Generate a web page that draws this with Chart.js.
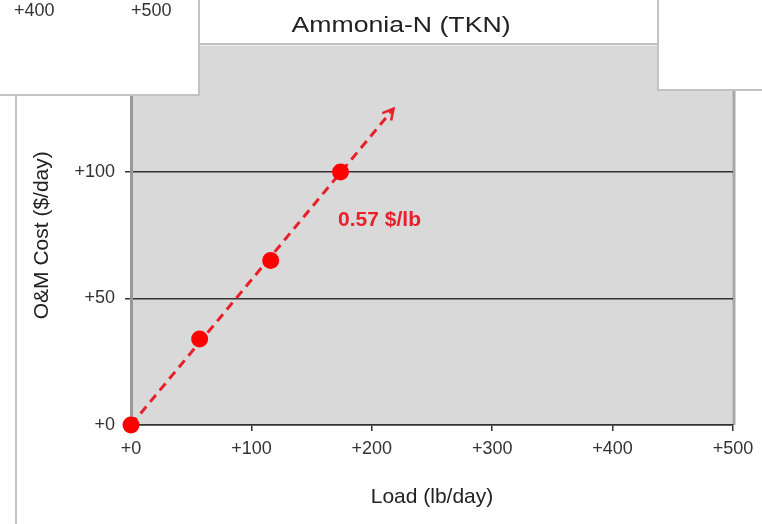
<!DOCTYPE html>
<html>
<head>
<meta charset="utf-8">
<script src="https://cdn.jsdelivr.net/npm/chart.js@4.4.1/dist/chart.umd.min.js"></script>
<style>
    html, body { margin: 0; padding: 0; background: #fff; }
    #wrap { width: 762px; height: 524px; position: relative; }
</style>
</head>
<body>
<div id="wrap"><canvas id="chart"></canvas></div>
<script>
// Measured O&M cost against load
const loads = [0, 57, 116, 174];
const costs = [0, 34, 65, 100];

// Trend arrow (0.57 $/lb)
const trendLoads = [0, 218];
const trendCosts = [0, 125];

const xTicks = [0, 100, 200, 300, 400, 500];
const yTicks = [0, 50, 100, 150];

const chartTitle = 'Ammonia-N (TKN)';
const slopeLabel = '0.57 $/lb';
const slopeLabelAt = { x: 172, y: 81 };
// leftover tick labels from the chart pasted behind
const strayLabels = ['+400', '+500'];

const TEXT = '#333';
const FONT = '"Liberation Sans", Arial, sans-serif';
const RED = '#e8202a';

const plus = v => '+' + v;

// grey plot area + right border
const plotBackground = {
    id: 'plotBackground',
    beforeDraw(chart) {
        const { ctx, chartArea: a } = chart;
        ctx.save();
        ctx.fillStyle = '#d9d9d9';
        ctx.fillRect(a.left, a.top, a.right - a.left, a.bottom - a.top);
        ctx.strokeStyle = '#a8a8a8';
        ctx.lineWidth = 3;
        ctx.beginPath();
        ctx.moveTo(a.right + 1, a.top);
        ctx.lineTo(a.right + 1, a.bottom);
        ctx.stroke();
        ctx.restore();
    }
};

// arrow head on the trend line and the slope text
const trendExtras = {
    id: 'trendExtras',
    afterDatasetsDraw(chart) {
        const { ctx, scales: { x, y } } = chart;
        const n = trendLoads.length;
        const x0 = x.getPixelForValue(trendLoads[n - 2]), y0 = y.getPixelForValue(trendCosts[n - 2]);
        const x1 = x.getPixelForValue(trendLoads[n - 1]), y1 = y.getPixelForValue(trendCosts[n - 1]);
        const ang = Math.atan2(y1 - y0, x1 - x0);
        const len = 12;
        ctx.save();
        ctx.strokeStyle = RED;
        ctx.lineWidth = 2.5;
        ctx.beginPath();
        ctx.moveTo(x1 - len * Math.cos(ang - 0.5), y1 - len * Math.sin(ang - 0.5));
        ctx.lineTo(x1, y1);
        ctx.lineTo(x1 - len * Math.cos(ang + 0.5), y1 - len * Math.sin(ang + 0.5));
        ctx.stroke();

        ctx.fillStyle = RED;
        ctx.font = 'bold 21px ' + FONT;
        ctx.textAlign = 'left';
        ctx.textBaseline = 'middle';
        ctx.fillText(slopeLabel, x.getPixelForValue(slopeLabelAt.x), y.getPixelForValue(slopeLabelAt.y));
        ctx.restore();
    }
};

// white panels from the slide that sit on top of the chart
const slideOverlay = {
    id: 'slideOverlay',
    afterDraw(chart) {
        const { ctx } = chart;
        ctx.save();
        ctx.fillStyle = '#fff';
        ctx.fillRect(0, 0, 199, 95);
        ctx.fillRect(199, 0, 459, 44);
        ctx.fillRect(658, 0, 104, 90);

        ctx.strokeStyle = '#c2c2c2';
        ctx.lineWidth = 2;
        ctx.beginPath();
        ctx.moveTo(0, 95); ctx.lineTo(199, 95); ctx.lineTo(199, 0);
        ctx.moveTo(199, 44); ctx.lineTo(658, 44);
        ctx.moveTo(658, 0); ctx.lineTo(658, 90); ctx.lineTo(762, 90);
        ctx.moveTo(16, 96); ctx.lineTo(16, 524);
        ctx.stroke();

        ctx.fillStyle = TEXT;
        ctx.font = '18px ' + FONT;
        ctx.textBaseline = 'middle';
        ctx.textAlign = 'left';
        ctx.fillText(strayLabels[0], 14, 11);
        ctx.fillText(strayLabels[1], 131, 11);

        // title, stretched a little wider like the original
        ctx.font = '22px ' + FONT;
        ctx.textBaseline = 'alphabetic';
        ctx.textAlign = 'center';
        ctx.fillStyle = '#222';
        const w = ctx.measureText(chartTitle).width;
        const sx = 219 / w;
        ctx.translate(401, 32);
        ctx.scale(sx, 1);
        ctx.fillText(chartTitle, 0, 0);
        ctx.restore();
    }
};

new Chart(document.getElementById('chart'), {
    type: 'scatter',
    data: {
        datasets: [
            {
                label: 'O&M cost',
                data: loads.map((v, i) => ({ x: v, y: costs[i] })),
                backgroundColor: '#ff0000',
                borderWidth: 0,
                pointRadius: 8.5,
                clip: false,
                order: 0
            },
            {
                label: 'Trend',
                data: trendLoads.map((v, i) => ({ x: v, y: trendCosts[i] })),
                showLine: true,
                borderColor: RED,
                borderWidth: 3,
                borderDash: [9, 6],
                pointRadius: 0,
                clip: false,
                order: 1
            }
        ]
    },
    options: {
        responsive: true,
        maintainAspectRatio: false,
        animation: false,
        layout: { padding: { left: 0, right: 29, top: 45.5, bottom: 0 } },
        plugins: {
            legend: { display: false },
            tooltip: { enabled: false }
        },
        scales: {
            x: {
                type: 'linear',
                min: xTicks[0],
                max: xTicks[xTicks.length - 1],
                afterBuildTicks: s => { s.ticks = xTicks.map(v => ({ value: v })); },
                afterFit: s => { s.height = 99; },
                border: { color: '#333', width: 1.5 },
                grid: { drawOnChartArea: false, color: '#333', lineWidth: 1.5, tickLength: 6 },
                ticks: {
                    callback: plus,
                    color: TEXT,
                    padding: 7,
                    maxRotation: 0,
                    font: { family: FONT, size: 18 }
                },
                title: {
                    display: true,
                    text: 'Load (lb/day)',
                    color: '#222',
                    font: { family: FONT, size: 21 },
                    padding: { top: 0, bottom: 14 }
                }
            },
            y: {
                type: 'linear',
                min: yTicks[0],
                max: yTicks[yTicks.length - 1],
                afterBuildTicks: s => { s.ticks = yTicks.map(v => ({ value: v })); },
                afterFit: s => { s.width = 131; },
                border: { color: '#999', width: 3 },
                grid: {
                    color: c => (c.tick && c.tick.value === yTicks[yTicks.length - 1]) ? 'rgba(0,0,0,0)' : '#333',
                    lineWidth: 1.5,
                    tickLength: 6
                },
                ticks: {
                    callback: plus,
                    color: TEXT,
                    padding: 10,
                    font: { family: FONT, size: 18 }
                },
                title: {
                    display: true,
                    text: 'O&M Cost ($/day)',
                    color: '#222',
                    font: { family: FONT, size: 21 },
                    padding: { top: 30, bottom: 0 }
                }
            }
        }
    },
    plugins: [plotBackground, trendExtras, slideOverlay]
});
</script>
</body>
</html>
